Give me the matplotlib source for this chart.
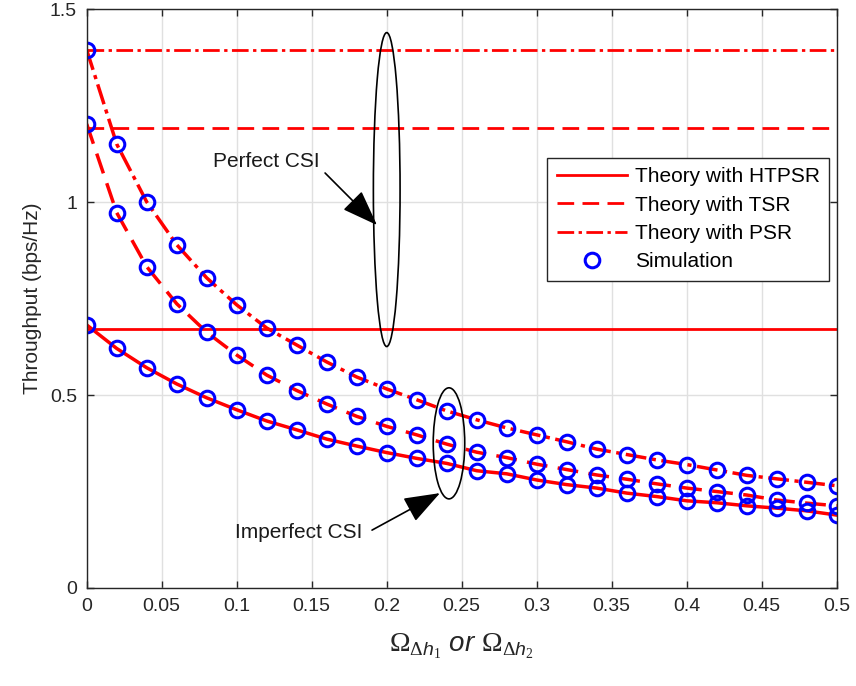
import matplotlib
matplotlib.use('Agg')
from matplotlib import pyplot as plt
from matplotlib.patches import Ellipse

plt.rcParams['font.family'] = ['Liberation Sans', 'DejaVu Sans']
plt.rcParams['mathtext.fontset'] = 'custom'
plt.rcParams['mathtext.rm'] = 'Liberation Serif'
plt.rcParams['mathtext.it'] = 'Liberation Sans:italic'
plt.rcParams['mathtext.sf'] = 'Liberation Sans'

# x axis: channel estimation error variance
omega = [0.00, 0.02, 0.04, 0.06, 0.08, 0.10, 0.12, 0.14, 0.16, 0.18, 0.20, 0.22, 0.24,
         0.26, 0.28, 0.30, 0.32, 0.34, 0.36, 0.38, 0.40, 0.42, 0.44, 0.46, 0.48, 0.50]

# imperfect CSI throughput
psr_imperfect = [1.395, 1.151, 1.001, 0.890, 0.804, 0.734, 0.674, 0.630, 0.586, 0.547, 0.516, 0.488, 0.459,
                 0.436, 0.415, 0.397, 0.379, 0.360, 0.346, 0.332, 0.320, 0.306, 0.292, 0.283, 0.274, 0.265]
tsr_imperfect = [1.203, 0.973, 0.833, 0.737, 0.663, 0.604, 0.552, 0.512, 0.477, 0.445, 0.419, 0.397, 0.373,
                 0.352, 0.338, 0.321, 0.307, 0.293, 0.282, 0.270, 0.259, 0.250, 0.241, 0.228, 0.220, 0.213]
htpsr_imperfect = [0.682, 0.621, 0.571, 0.529, 0.493, 0.462, 0.433, 0.410, 0.386, 0.368, 0.351, 0.336, 0.323,
                   0.304, 0.296, 0.280, 0.268, 0.259, 0.246, 0.237, 0.226, 0.221, 0.213, 0.207, 0.200, 0.189]

# perfect CSI levels (flat)
psr_perfect = 1.395
tsr_perfect = 1.193
htpsr_perfect = 0.671

fig = plt.figure(figsize=(8.56, 6.86), dpi=100)
ax = fig.add_axes([0.1013, 0.1429, 0.8762, 0.8433])

red = (1, 0, 0)
dark = (0.15, 0.15, 0.15)
lw = 2.0
dash = (0, (6, 3))
dashdot = (0, (6, 1.6, 1.2, 1.6))

n = len(omega)
ax.plot(omega, [htpsr_perfect] * n, color=red, lw=lw, ls='-', label='Theory with HTPSR')
ax.plot(omega, [tsr_perfect] * n, color=red, lw=lw, ls=dash, label='Theory with TSR')
ax.plot(omega, [psr_perfect] * n, color=red, lw=lw, ls=dashdot, label='Theory with PSR')

ax.plot(omega, htpsr_imperfect, color=red, lw=lw + 0.5, ls='-')
ax.plot(omega, tsr_imperfect, color=red, lw=lw + 0.5, ls=dash)
ax.plot(omega, psr_imperfect, color=red, lw=lw + 0.5, ls=dashdot)

mk = dict(ls='none', marker='o', ms=10.5, mew=2.2, mfc='none', mec=(0, 0, 1))
ax.plot(omega, htpsr_imperfect, label='Simulation', **mk)
ax.plot(omega, tsr_imperfect, **mk)
ax.plot(omega, psr_imperfect, **mk)

# ellipses + arrows
ax.add_patch(Ellipse((0.2, 1.033), 0.0178, 0.814, fill=False, ec='k', lw=1.2, zorder=5))
ax.add_patch(Ellipse((0.2415, 0.375), 0.021, 0.288, fill=False, ec='k', lw=1.2, zorder=5))

arrow = dict(arrowstyle='-|>,head_length=1.5,head_width=0.55', color='k', lw=1.2,
             shrinkA=0, shrinkB=0, mutation_scale=15)
ax.annotate('', xy=(0.1935, 0.941), xytext=(0.1589, 1.076), arrowprops=arrow, zorder=6)
ax.annotate('', xy=(0.2355, 0.246), xytext=(0.1902, 0.150), arrowprops=arrow, zorder=6)
ax.text(0.0842, 1.107, 'Perfect CSI', fontsize=15, ha='left', va='center', color=(0.1, 0.1, 0.1))
ax.text(0.0989, 0.145, 'Imperfect CSI', fontsize=15, ha='left', va='center', color=(0.1, 0.1, 0.1))

ax.set_xlim(0, 0.5)
ax.set_ylim(0, 1.5)
ax.set_xticks([0, 0.05, 0.1, 0.15, 0.2, 0.25, 0.3, 0.35, 0.4, 0.45, 0.5])
ax.set_xticklabels(['0', '0.05', '0.1', '0.15', '0.2', '0.25', '0.3', '0.35', '0.4', '0.45', '0.5'])
ax.set_yticks([0, 0.5, 1, 1.5])
ax.set_yticklabels(['0', '0.5', '1', '1.5'])

ax.grid(True, color=(0.88, 0.88, 0.88), lw=1)
ax.set_axisbelow(True)
ax.tick_params(direction='in', top=True, right=True, length=5, width=1,
               labelsize=14, colors=dark, pad=7)
for s in ax.spines.values():
    s.set_color(dark)
    s.set_linewidth(1)

ax.set_ylabel('Throughput (bps/Hz)', fontsize=15, color=dark, labelpad=6)
ax.set_xlabel(r'$\Omega_{\Delta \mathit{h}_{\mathit{1}}}\ \mathit{or}\ \Omega_{\Delta \mathit{h}_{\mathit{2}}}$',
              fontsize=20, color=dark, labelpad=12)

leg = ax.legend(loc='upper right', bbox_to_anchor=(0.9897, 0.7433), borderaxespad=0, fontsize=15,
                handlelength=3.4, labelspacing=0.45, borderpad=0.45, handletextpad=0.35,
                fancybox=False, framealpha=1, edgecolor=dark)
leg.get_frame().set_linewidth(1)

fig.savefig('out.png', dpi=100)
